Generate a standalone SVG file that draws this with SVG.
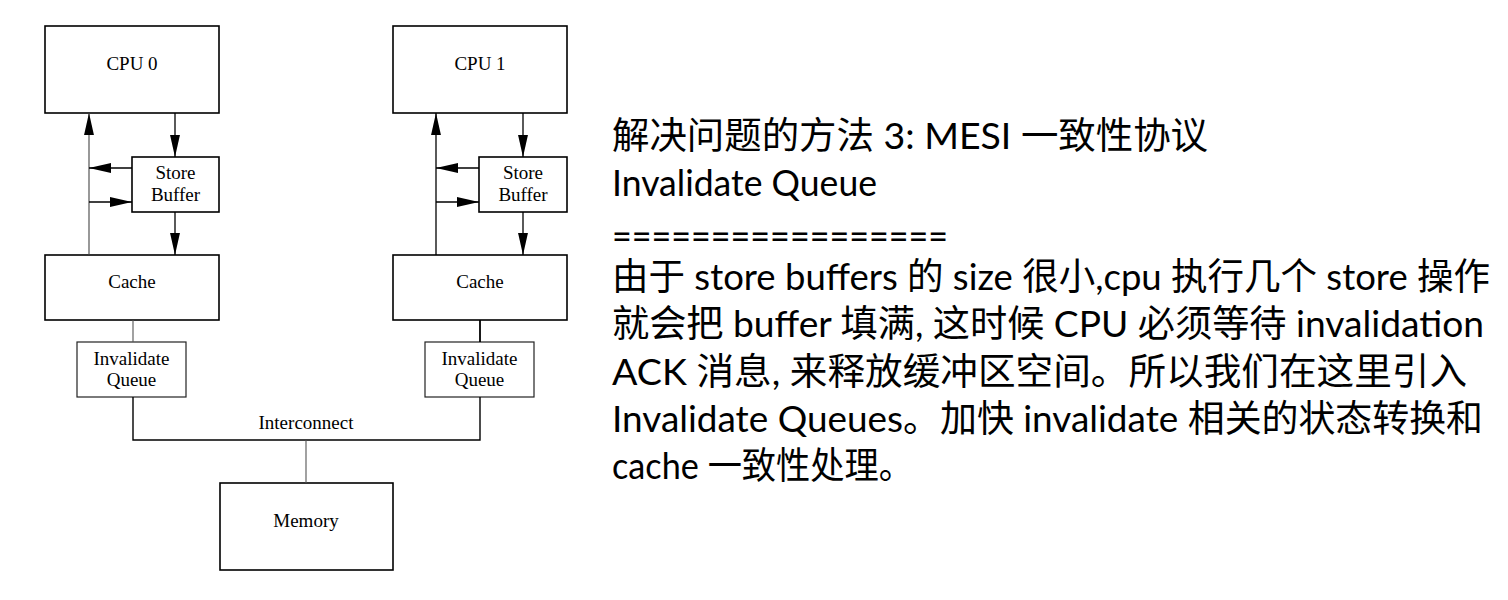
<svg xmlns="http://www.w3.org/2000/svg" width="1508" height="600" viewBox="0 0 1508 600">
<style>
.box{fill:#fff;stroke:#000;stroke-width:1.6}
.iq{fill:#fff;stroke:#222;stroke-width:1.2}
.lbl{font-family:"Liberation Serif","Times New Roman",serif;font-size:19px;fill:#000;text-anchor:middle}
.thin{fill:none;stroke:#555;stroke-width:1.1}
.thick{fill:none;stroke:#000;stroke-width:1.8}
.arr{fill:none;stroke:#000;stroke-width:1.3;marker-end:url(#ah)}
.arrg{fill:none;stroke:#444;stroke-width:1.1;marker-end:url(#ah)}
.txt{font-family:Lato,"Noto Sans CJK SC",sans-serif;font-size:37px;fill:#000}
</style>
<defs>
<marker id="ah" markerUnits="userSpaceOnUse" markerWidth="22" markerHeight="12" viewBox="0 0 20 10" refX="20" refY="5" orient="auto">
<path d="M0,0.5 L20,5 L0,9.5 z" fill="#000"/>
</marker>
</defs>
<rect width="1508" height="600" fill="#fff"/>

<g id="cpu0"><rect class="box" x="45" y="26" width="174" height="87"/><text class="lbl" x="132" y="70">CPU 0</text></g>
<g id="sb0"><rect class="box" x="132" y="157" width="87" height="55"/><text class="lbl" x="175.5" y="179">Store</text><text class="lbl" x="175.5" y="201">Buffer</text></g>
<g id="cache0"><rect class="box" x="45" y="255" width="174" height="65"/><text class="lbl" x="132" y="288">Cache</text></g>
<g id="iq0"><rect class="iq" x="77" y="342" width="109" height="55"/><text class="lbl" x="131.5" y="365">Invalidate</text><text class="lbl" x="131.5" y="386">Queue</text></g>

<g id="cpu1"><rect class="box" x="393" y="26" width="174" height="87"/><text class="lbl" x="480" y="70">CPU 1</text></g>
<g id="sb1"><rect class="box" x="479" y="157" width="88" height="55"/><text class="lbl" x="523" y="179">Store</text><text class="lbl" x="523" y="201">Buffer</text></g>
<g id="cache1"><rect class="box" x="393" y="255" width="174" height="65"/><text class="lbl" x="480" y="288">Cache</text></g>
<g id="iq1"><rect class="iq" x="425" y="342" width="109" height="55"/><text class="lbl" x="479.5" y="365">Invalidate</text><text class="lbl" x="479.5" y="386">Queue</text></g>

<g id="memory"><rect class="box" x="220" y="483" width="173" height="87"/><text class="lbl" x="306" y="527">Memory</text></g>

<g id="connectors">
<line class="arr" x1="175" y1="113" x2="175" y2="157"/>
<line class="arr" x1="175" y1="212" x2="175" y2="255"/>
<line class="arrg" x1="89" y1="255" x2="89" y2="113"/>
<line class="arr" x1="132" y1="168" x2="89" y2="168"/>
<line class="arr" x1="89" y1="202" x2="132" y2="202"/>
<line class="arr" x1="523" y1="113" x2="523" y2="157"/>
<line class="arr" x1="523" y1="212" x2="523" y2="255"/>
<line class="arr" x1="436" y1="255" x2="436" y2="113"/>
<line class="arr" x1="479" y1="168" x2="436" y2="168"/>
<line class="arr" x1="436" y1="202" x2="479" y2="202"/>
<line class="thin" x1="133" y1="320" x2="133" y2="342"/>
<line class="thick" x1="480" y1="320" x2="480" y2="342"/>
<polyline class="thick" points="133,397 133,440 480,440 480,397" style="stroke-width:1.4"/>
<line class="thin" x1="306" y1="440" x2="306" y2="483"/>
<text class="lbl" x="306" y="429">Interconnect</text>
</g>

<g id="notes">
<text class="txt" x="612" y="149" textLength="596" lengthAdjust="spacingAndGlyphs">解决问题的方法 3: MESI 一致性协议</text>
<text class="txt" x="612" y="196" textLength="265" lengthAdjust="spacingAndGlyphs">Invalidate Queue</text>
<text class="txt" x="612" y="249" textLength="336" lengthAdjust="spacingAndGlyphs">=================</text>
<text class="txt" x="612" y="290" textLength="878" lengthAdjust="spacingAndGlyphs">由于 store buffers 的 size 很小,cpu 执行几个 store 操作</text>
<text class="txt" x="612" y="337" textLength="872" lengthAdjust="spacingAndGlyphs">就会把 buffer 填满, 这时候 CPU 必须等待 invalidation</text>
<text class="txt" x="612" y="385" textLength="855" lengthAdjust="spacingAndGlyphs">ACK 消息, 来释放缓冲区空间。所以我们在这里引入</text>
<text class="txt" x="612" y="432" textLength="871" lengthAdjust="spacingAndGlyphs">Invalidate Queues。加快 invalidate 相关的状态转换和</text>
<text class="txt" x="612" y="479" textLength="301" lengthAdjust="spacingAndGlyphs">cache 一致性处理。</text>
</g>
</svg>
